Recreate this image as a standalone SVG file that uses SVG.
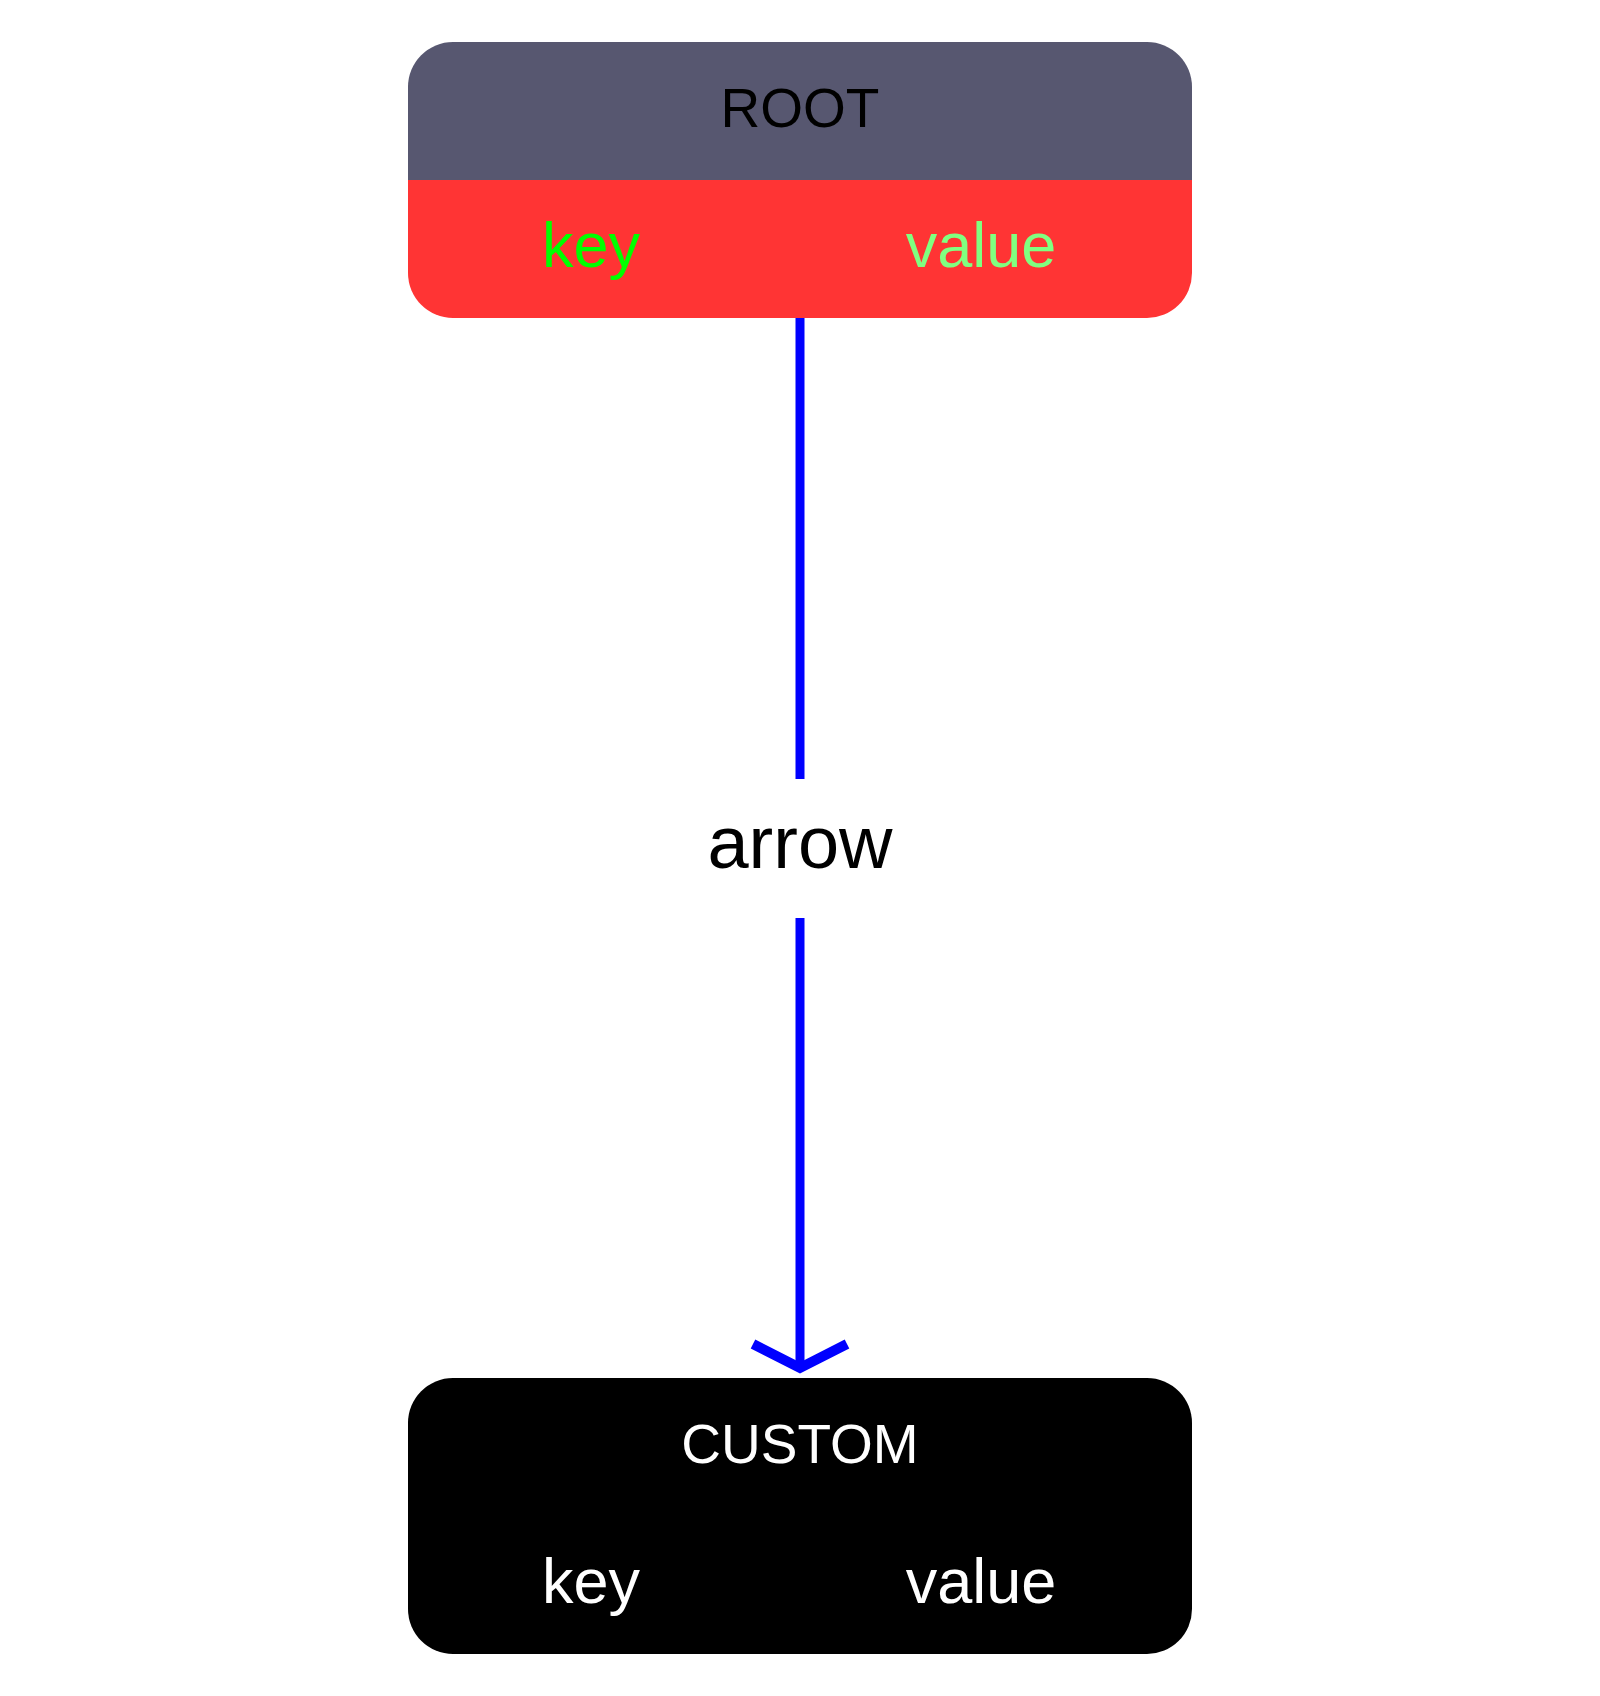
<svg xmlns="http://www.w3.org/2000/svg" width="1600" height="1696" viewBox="0 0 1600 1696">
  <style>
    text { font-family: "Liberation Sans", Arial, Helvetica, sans-serif; }
    .title { font-size: 55px; text-anchor: middle; }
    .cell { font-size: 63px; text-anchor: middle; }
    .label { font-size: 74px; text-anchor: middle; fill: #000000; }
    .edge { fill: none; stroke: #0000FF; stroke-width: 9; }
  </style>
  <defs>
    <marker id="chevron" markerUnits="userSpaceOnUse" markerWidth="80" markerHeight="120" viewBox="-60 -60 80 120" refX="0" refY="0" orient="auto" overflow="visible">
      <path d="M-24,-47 L0,0 L-24,47" fill="none" stroke="#0000FF" stroke-width="10" stroke-linejoin="miter"/>
    </marker>
  </defs>
  <rect width="1600" height="1696" fill="#FFFFFF"/>

  <g id="connectors">
    <path class="edge" d="M800,318 L800,779"/>
    <path class="edge" d="M800,918 L800,1368" marker-end="url(#chevron)"/>
    <text class="label" x="800" y="868">arrow</text>
  </g>

  <g id="node-root">
    <path d="M408,180 L408,87 A45,45 0 0 1 453,42 L1147,42 A45,45 0 0 1 1192,87 L1192,180 Z" fill="#575770"/>
    <path d="M408,180 L1192,180 L1192,273 A45,45 0 0 1 1147,318 L453,318 A45,45 0 0 1 408,273 Z" fill="#FF3434"/>
    <text class="title" x="800" y="127" fill="#000000">ROOT</text>
    <text class="cell" x="591" y="267" fill="#00FF00">key</text>
    <text class="cell" x="981" y="267" fill="#80FF80">value</text>
  </g>

  <g id="node-custom">
    <path d="M408,1516 L408,1423 A45,45 0 0 1 453,1378 L1147,1378 A45,45 0 0 1 1192,1423 L1192,1516 Z" fill="#000000"/>
    <path d="M408,1516 L1192,1516 L1192,1609 A45,45 0 0 1 1147,1654 L453,1654 A45,45 0 0 1 408,1609 Z" fill="#000000"/>
    <text class="title" x="800" y="1463" fill="#FFFFFF">CUSTOM</text>
    <text class="cell" x="591" y="1603" fill="#FFFFFF">key</text>
    <text class="cell" x="981" y="1603" fill="#FFFFFF">value</text>
  </g>
</svg>
